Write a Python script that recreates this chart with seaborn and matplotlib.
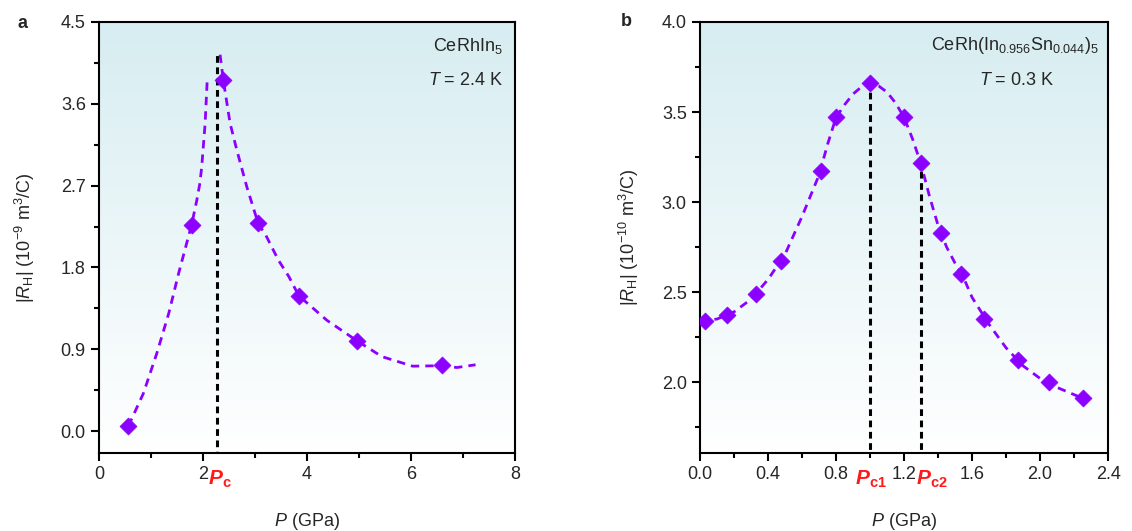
import matplotlib
matplotlib.use("Agg")
import matplotlib.pyplot as plt
import matplotlib.transforms as mtransforms
from matplotlib.colors import LinearSegmentedColormap
import numpy as np
import pandas as pd
import seaborn as sns

# panel a: CeRhIn5, T = 2.4 K
p_a = [0.563, 1.78, 2.39, 3.06, 3.84, 4.97, 6.60]
rh_a = [0.055, 2.27, 3.86, 2.285, 1.49, 0.99, 0.73]
# guide-to-the-eye curve (two branches)
fit_a_left_x = [0.563, 0.852, 1.11, 1.34, 1.53, 1.78, 1.88, 1.94, 1.975, 2.04, 2.08]
fit_a_left_y = [0.055, 0.415, 0.855, 1.295, 1.735, 2.27, 2.54, 2.73, 2.91, 3.385, 3.86]
fit_a_right_x = [2.327, 2.39, 2.52, 2.65, 2.84, 3.06, 3.22, 3.45, 3.65, 3.84, 4.38, 4.97, 5.44, 6.03, 6.60, 6.88, 7.24]
fit_a_right_y = [4.14, 3.86, 3.385, 3.09, 2.69, 2.285, 2.14, 1.88, 1.70, 1.49, 1.22, 0.99, 0.82, 0.715, 0.72, 0.70, 0.73]
pc_a = 2.275
pc_a_top = 4.17

# panel b: CeRh(In0.956Sn0.044)5, T = 0.3 K
p_b = [0.03, 0.16, 0.33, 0.475, 0.71, 0.80, 1.00, 1.20, 1.30, 1.415, 1.535, 1.67, 1.87, 2.05, 2.25]
rh_b = [2.34, 2.37, 2.49, 2.675, 3.17, 3.475, 3.66, 3.47, 3.215, 2.83, 2.60, 2.35, 2.12, 2.00, 1.91]
fit_b_x = [0.0, 0.1, 0.2, 0.3, 0.4, 0.5, 0.6, 0.7, 0.75, 0.8, 0.85, 0.9, 0.95, 1.0, 1.05, 1.1,
           1.15, 1.2, 1.25, 1.3, 1.35, 1.4, 1.45, 1.5, 1.55, 1.6, 1.7, 1.8, 1.9, 2.0, 2.1, 2.2, 2.25]
fit_b_y = [2.34, 2.35, 2.39, 2.46, 2.57, 2.71, 2.92, 3.15, 3.32, 3.47, 3.54, 3.60, 3.64, 3.66, 3.645, 3.61,
           3.55, 3.47, 3.35, 3.21, 3.03, 2.87, 2.75, 2.66, 2.58, 2.47, 2.32, 2.19, 2.09, 2.02, 1.97, 1.93, 1.91]
pc1_b, pc1_top = 1.00, 3.66
pc2_b, pc2_top = 1.30, 3.20

purple = "#8b00ff"

sns.set_style("ticks")
plt.rcParams["font.family"] = ["Liberation Sans", "DejaVu Sans"]
plt.rcParams["mathtext.fontset"] = "custom"
plt.rcParams["mathtext.rm"] = "Liberation Sans"
plt.rcParams["mathtext.it"] = "Liberation Sans:italic"
plt.rcParams["mathtext.bf"] = "Liberation Sans:bold"
plt.rcParams["mathtext.bfit"] = "Liberation Sans:bold:italic"
plt.rcParams["font.size"] = 13

fig = plt.figure(figsize=(11.32, 5.31), dpi=100)
ax1 = fig.add_axes([0.0875, 0.1469, 0.3675, 0.8117])
ax2 = fig.add_axes([0.6184, 0.1469, 0.3605, 0.8117])

bg = LinearSegmentedColormap.from_list("bg", ["#ffffff", "#d7edf1"])
grad = np.linspace(0, 1, 256).reshape(-1, 1)


def style_axes(ax):
    ax.imshow(grad, extent=[0, 1, 0, 1], transform=ax.transAxes, origin="lower",
              aspect="auto", cmap=bg, zorder=0)
    for s in ax.spines.values():
        s.set_linewidth(1.5)
        s.set_color("black")
    ax.tick_params(which="major", direction="out", length=6, width=1.5, labelsize=13, color="black")
    ax.tick_params(which="minor", direction="out", length=3.5, width=1.5, color="black")


def fit_line(ax, x, y):
    sns.lineplot(x=x, y=y, ax=ax, color=purple, lw=2, linestyle=(0, (3, 2.2)),
                 sort=False, estimator=None, zorder=2)


# ---- panel a
style_axes(ax1)
fit_line(ax1, fit_a_left_x, fit_a_left_y)
fit_line(ax1, fit_a_right_x, fit_a_right_y)
ax1.plot([pc_a, pc_a], [-0.3, pc_a_top], color="black", lw=2.2, linestyle=(0, (2.2, 1.5)), zorder=2)
sns.scatterplot(x=p_a, y=rh_a, ax=ax1, marker="D", s=75, color=purple, edgecolor=purple,
                linewidth=0.5, zorder=3)
ax1.set_xlim(0, 8)
ax1.set_ylim(-0.24, 4.5)
ax1.set_xticks([0, 2, 4, 6, 8])
ax1.set_xticks([1, 3, 5, 7], minor=True)
ax1.set_yticks([0.0, 0.9, 1.8, 2.7, 3.6, 4.5])
ax1.set_yticks([0.45, 1.35, 2.25, 3.15, 4.05], minor=True)
ax1.set_yticklabels(["0.0", "0.9", "1.8", "2.7", "3.6", "4.5"])
ax1.set_xlabel(r"$P$ (GPa)", fontsize=13, labelpad=20)
ax1.set_ylabel(r"$|R_{\mathrm{H}}|$ (10$^{-9}$ m$^{3}$/C)", fontsize=13, labelpad=17)
ax1.text(0.971, 0.945, r"CeRhIn$_{5}$", transform=ax1.transAxes, ha="right", va="center", fontsize=13)
ax1.text(0.971, 0.865, r"$T$ = 2.4 K", transform=ax1.transAxes, ha="right", va="center", fontsize=13)
trans1 = mtransforms.blended_transform_factory(ax1.transData, ax1.transAxes)
ax1.text(2.33, -0.062, r"$\mathbfit{P}_{\mathbf{c}}$", transform=trans1, ha="center", va="center",
         color="#ff1a1a", fontsize=15)
fig.text(0.0195, 0.955, "a", fontsize=13, fontweight="bold", ha="center", va="center")

# ---- panel b
style_axes(ax2)
fit_line(ax2, fit_b_x, fit_b_y)
ax2.plot([pc1_b, pc1_b], [1.5, pc1_top], color="black", lw=2.2, linestyle=(0, (2.2, 1.5)), zorder=2)
ax2.plot([pc2_b, pc2_b], [1.5, pc2_top], color="black", lw=2.2, linestyle=(0, (2.2, 1.5)), zorder=2)
sns.scatterplot(x=p_b, y=rh_b, ax=ax2, marker="D", s=75, color=purple, edgecolor=purple,
                linewidth=0.5, zorder=3)
ax2.set_xlim(0, 2.4)
ax2.set_ylim(1.606, 4.0)
ax2.set_xticks([0.0, 0.4, 0.8, 1.2, 1.6, 2.0, 2.4])
ax2.set_xticks([0.2, 0.6, 1.0, 1.4, 1.8, 2.2], minor=True)
ax2.set_xticklabels(["0.0", "0.4", "0.8", "1.2", "1.6", "2.0", "2.4"])
ax2.set_yticks([2.0, 2.5, 3.0, 3.5, 4.0])
ax2.set_yticks([1.75, 2.25, 2.75, 3.25, 3.75], minor=True)
ax2.set_yticklabels(["2.0", "2.5", "3.0", "3.5", "4.0"])
ax2.set_xlabel(r"$P$ (GPa)", fontsize=13, labelpad=20)
ax2.set_ylabel(r"$|R_{\mathrm{H}}|$ (10$^{-10}$ m$^{3}$/C)", fontsize=13, labelpad=15)
ax2.text(0.979, 0.945, r"CeRh(In$_{0.956}$Sn$_{0.044}$)$_{5}$", transform=ax2.transAxes,
         ha="right", va="center", fontsize=13)
ax2.text(0.776, 0.865, r"$T$ = 0.3 K", transform=ax2.transAxes, ha="center", va="center", fontsize=13)
trans2 = mtransforms.blended_transform_factory(ax2.transData, ax2.transAxes)
ax2.text(1.005, -0.062, r"$\mathbfit{P}_{\mathbf{c1}}$", transform=trans2, ha="center", va="center",
         color="#ff1a1a", fontsize=15)
ax2.text(1.365, -0.062, r"$\mathbfit{P}_{\mathbf{c2}}$", transform=trans2, ha="center", va="center",
         color="#ff1a1a", fontsize=15)
fig.text(0.553, 0.96, "b", fontsize=13, fontweight="bold", ha="center", va="center")

fig.savefig("out.png", dpi=100)
